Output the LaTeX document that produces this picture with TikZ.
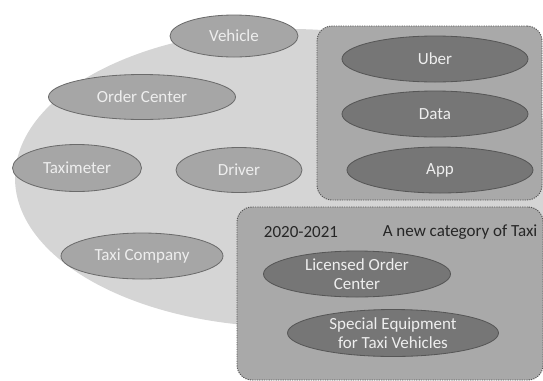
\documentclass[tikz,border=0pt]{standalone}
\usepackage{fontspec}
\setmainfont{Carlito}
\usepackage{tikz}
\usetikzlibrary{shapes.geometric,positioning}
\definecolor{taxiBase}{HTML}{D5D5D5}
\definecolor{taxiItem}{HTML}{A6A6A6}
\definecolor{taxiEdge}{HTML}{6B6B6B}
\definecolor{taxiPanel}{HTML}{A9A9A9}
\definecolor{taxiDark}{HTML}{767676}
\definecolor{taxiInk}{HTML}{262626}
\definecolor{taxiText}{HTML}{EEEEEE}
\tikzset{
    every picture/.style={font=\fontsize{14.5}{16.5}\selectfont},
    item/.style={ellipse, draw=taxiEdge, line width=0.7pt, fill=taxiItem, text=taxiText, inner sep=0pt, align=center},
    newitem/.style={ellipse, draw=taxiEdge!80!black, line width=0.7pt, fill=taxiDark, text=taxiText, inner sep=0pt, align=center},
    panel/.style={draw=taxiEdge!80!black, line width=0.8pt, dash pattern=on 1pt off 1pt, rounded corners=4.5mm, fill=taxiPanel, inner sep=0pt},
    caption/.style={text=taxiInk}
}

\begin{document}
\begin{tikzpicture}[x=0.3mm, y=-0.3mm]
\useasboundingbox (0,0) rectangle (543,380);
% traditional taxi
\fill[taxiBase] (290,178) ellipse (275 and 149);
\node[item, minimum width=38.4mm, minimum height=12.6mm] (vehicle) at (234,36) {Vehicle};
\node[item, minimum width=56.1mm, minimum height=13.5mm] (order) at (142,97) {Order Center};
\node[item, minimum width=38.7mm, minimum height=14.1mm] (meter) at (77,168) {Taximeter};
\node[item, minimum width=37.8mm, minimum height=13.5mm] (driver) at (239,170) {Driver};
\node[item, minimum width=48.6mm, minimum height=13.8mm] (company) at (142,256) {Taxi Company};
% platform side
\node[panel, minimum width=67.5mm, minimum height=52.2mm] (online) at (429.5,113) {};
\node[newitem, minimum width=55.8mm, minimum height=13.8mm] (uber) at (435,59) {Uber};
\node[newitem, minimum width=55.8mm, minimum height=13.8mm] (data) at (435,114) {Data};
\node[newitem, minimum width=55.8mm, minimum height=13.8mm] (app) at (440,170) {App};
% new category
\node[panel, minimum width=91.8mm, minimum height=51.9mm] (newcat) at (390,293.5) {};
\node[caption] (years) at (301,232) {2020-2021};
\node[caption] (label) at (460,232) {A new category of Taxi};
\node[newitem, minimum width=56.1mm, minimum height=13.8mm] (licensed) at (357,274) {Licensed Order\\Center};
\node[newitem, minimum width=63.3mm, minimum height=14.1mm] (equip) at (393,333) {Special Equipment\\for Taxi Vehicles};
\end{tikzpicture}
\end{document}
